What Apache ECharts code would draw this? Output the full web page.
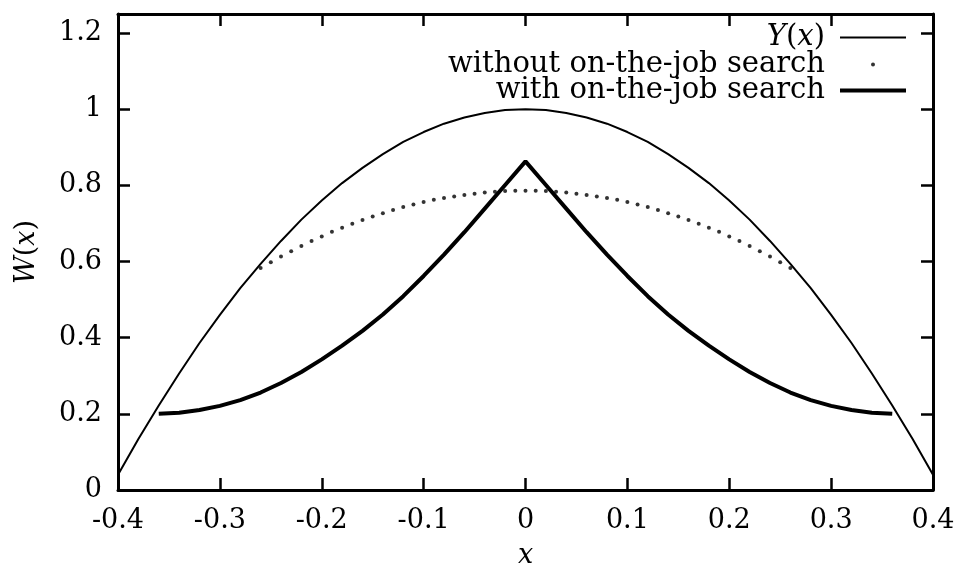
<!DOCTYPE html>
<html>
<head>
<meta charset="utf-8">
<script src="https://cdn.jsdelivr.net/npm/echarts@6/dist/echarts.min.js"></script>
<style>html,body{margin:0;padding:0;background:#fff}#c{width:960px;height:565px}</style>
</head>
<body>
<div id="c"></div>
<script>
// Y(x) curve
var yCurveX = [-0.40,-0.38,-0.36,-0.34,-0.32,-0.30,-0.28,-0.26,-0.24,-0.22,-0.20,-0.18,-0.16,-0.14,-0.12,-0.10,-0.08,-0.06,-0.04,-0.02,0.00,
               0.02,0.04,0.06,0.08,0.10,0.12,0.14,0.16,0.18,0.20,0.22,0.24,0.26,0.28,0.30,0.32,0.34,0.36,0.38,0.40];
var yCurveY = [0.040,0.134,0.222,0.306,0.386,0.460,0.530,0.594,0.654,0.710,0.760,0.806,0.846,0.882,0.914,0.940,0.962,0.978,0.990,0.998,1.000,
               0.998,0.990,0.978,0.962,0.940,0.914,0.882,0.846,0.806,0.760,0.710,0.654,0.594,0.530,0.460,0.386,0.306,0.222,0.134,0.040];
// without on-the-job search (dots)
var noOjsX = [-0.26,-0.25,-0.24,-0.23,-0.22,-0.21,-0.20,-0.19,-0.18,-0.17,-0.16,-0.15,-0.14,-0.13,-0.12,-0.11,-0.10,-0.09,-0.08,-0.07,-0.06,-0.05,-0.04,-0.03,-0.02,-0.01,0.00,
              0.01,0.02,0.03,0.04,0.05,0.06,0.07,0.08,0.09,0.10,0.11,0.12,0.13,0.14,0.15,0.16,0.17,0.18,0.19,0.20,0.21,0.22,0.23,0.24,0.25,0.26];
var noOjsY = [0.583,0.598,0.613,0.627,0.641,0.654,0.666,0.678,0.689,0.699,0.709,0.718,0.727,0.735,0.743,0.750,0.756,0.762,0.767,0.771,0.775,0.778,0.781,0.783,0.785,0.786,0.786,
              0.786,0.785,0.783,0.781,0.778,0.775,0.771,0.767,0.762,0.756,0.750,0.743,0.735,0.727,0.718,0.709,0.699,0.689,0.678,0.666,0.654,0.641,0.627,0.613,0.598,0.583];
// with on-the-job search (thick)
var ojsX = [-0.36,-0.34,-0.32,-0.30,-0.28,-0.26,-0.24,-0.22,-0.20,-0.18,-0.16,-0.14,-0.12,-0.10,-0.08,-0.06,-0.04,-0.02,0.00,
            0.02,0.04,0.06,0.08,0.10,0.12,0.14,0.16,0.18,0.20,0.22,0.24,0.26,0.28,0.30,0.32,0.34,0.36];
var ojsY = [0.200,0.203,0.210,0.221,0.236,0.256,0.281,0.310,0.343,0.379,0.418,0.461,0.509,0.562,0.618,0.677,0.739,0.801,0.863,
            0.801,0.739,0.677,0.618,0.562,0.509,0.461,0.418,0.379,0.343,0.310,0.281,0.256,0.236,0.221,0.210,0.203,0.200];
var seriesNames = ['Y(x)', 'without on-the-job search', 'with on-the-job search'];
var xTicks = {min: -0.4, max: 0.4, interval: 0.1};
var yTicks = {min: 0, max: 1.25, interval: 0.2};

function pairs(xs, ys){ return xs.map(function(x,i){ return [x, ys[i]]; }); }

var FONT = 'DejaVu Serif';
var FS = 27;
var LFS = 29;
var chart = echarts.init(document.getElementById('c'), null, {renderer:'canvas'});

function yLabel(v){
  if (Math.abs(v*5 - Math.round(v*5)) > 1e-6) return '';
  return String(+v.toFixed(2));
}
var axisCommon = {
  axisLine:{show:true, onZero:false, lineStyle:{color:'#000', width:3}},
  axisTick:{show:true, inside:true, length:12, lineStyle:{color:'#000', width:2.5}},
  splitLine:{show:false}
};
function legendText(padRight){
  return {
    fontFamily: FONT, fontSize: LFS, color:'#000', padding:[0,padRight,0,0],
    rich:{ i:{fontFamily:FONT, fontSize:LFS, fontStyle:'italic', color:'#000'},
           r:{fontFamily:FONT, fontSize:LFS, color:'#000'} }
  };
}
function legendFmt(n){ return n === 'Y(x)' ? '{i|Y}{r|(}{i|x}{r|)}' : n; }

var option = {
  animation:false,
  backgroundColor:'#fff',
  grid:{left:118, right:27, top:14, bottom:75, containLabel:false, outerBoundsMode:'none'},
  legend:[
    {data:[{name:seriesNames[0], icon:'rect'}], right:54, top:23, padding:0, align:'right', itemWidth:66, itemHeight:2,
     formatter:legendFmt, textStyle:legendText(10), selectedMode:false},
    {data:[{name:seriesNames[1], icon:'circle'}], right:85, top:50, padding:0, align:'right', itemWidth:4, itemHeight:4,
     textStyle:legendText(41), selectedMode:false},
    {data:[{name:seriesNames[2], icon:'rect'}], right:54, top:76, padding:0, align:'right', itemWidth:66, itemHeight:4,
     textStyle:legendText(10), selectedMode:false}
  ],
  xAxis:[
    Object.assign({type:'value', position:'bottom', min:xTicks.min, max:xTicks.max, interval:xTicks.interval,
      name:'x', nameLocation:'middle', nameGap:52,
      nameTextStyle:{fontFamily:FONT, fontSize:FS, fontStyle:'italic', color:'#000'},
      axisLabel:{fontFamily:FONT, fontSize:FS, color:'#000', margin:17}}, axisCommon),
    Object.assign({type:'value', position:'top', min:xTicks.min, max:xTicks.max, interval:xTicks.interval,
      axisLabel:{show:false}}, axisCommon)
  ],
  yAxis:[
    Object.assign({type:'value', position:'left', min:yTicks.min, max:yTicks.max, interval:yTicks.interval,
      name:'{i|W}{r|(}{i|x}{r|)}', nameLocation:'middle', nameGap:78, nameRotate:90,
      nameTextStyle:{fontFamily:FONT, fontSize:FS, color:'#000',
        rich:{i:{fontFamily:FONT, fontSize:FS, fontStyle:'italic', color:'#000'}, r:{fontFamily:FONT, fontSize:FS, color:'#000'}}},
      axisLabel:{fontFamily:FONT, fontSize:FS, color:'#000', margin:16, formatter:yLabel}}, axisCommon),
    Object.assign({type:'value', position:'right', min:yTicks.min, max:yTicks.max, interval:yTicks.interval,
      axisLabel:{show:false}}, axisCommon)
  ],
  series:[
    {name:seriesNames[0], type:'line', data:pairs(yCurveX, yCurveY), symbol:'none',
     lineStyle:{color:'#000', width:2}, itemStyle:{color:'#000'}, z:3},
    {name:seriesNames[1], type:'scatter', data:pairs(noOjsX, noOjsY), symbol:'circle', symbolSize:4,
     itemStyle:{color:'#000'}, z:2},
    {name:seriesNames[2], type:'line', data:pairs(ojsX, ojsY), symbol:'none',
     lineStyle:{color:'#000', width:4}, itemStyle:{color:'#000'}, z:4}
  ]
};
chart.setOption(option);
</script>
</body>
</html>
